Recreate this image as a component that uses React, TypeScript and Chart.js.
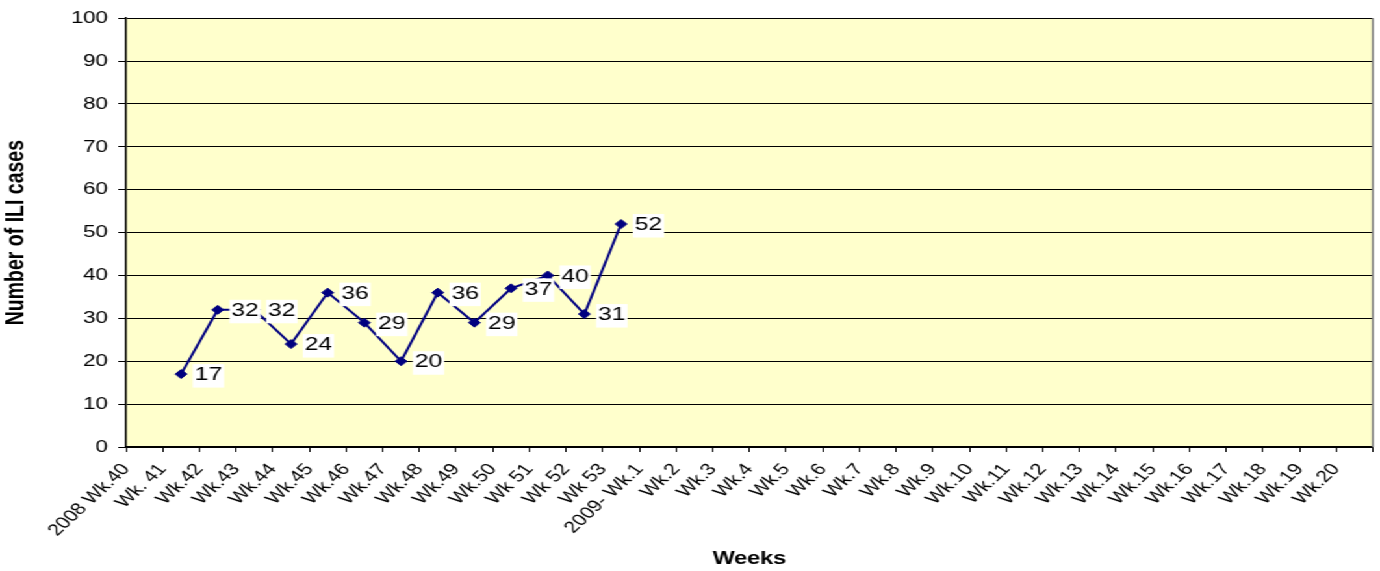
import React, { useEffect, useRef } from 'react';
import { Chart, registerables } from 'chart.js';

Chart.register(...registerables);

const weekLabels: string[] = [
  '2008 Wk.40', 'Wk. 41', 'Wk.42', 'Wk.43', 'Wk.44', 'Wk.45', 'Wk.46', 'Wk.47',
  'Wk.48', 'Wk.49', 'Wk.50', 'Wk 51', 'Wk 52', 'Wk 53', '2009- Wk.1', 'Wk.2',
  'Wk.3', 'Wk.4', 'Wk.5', 'Wk.6', 'Wk.7', 'Wk.8', 'Wk.9', 'Wk.10', 'Wk.11',
  'Wk.12', 'Wk.13', 'Wk.14', 'Wk.15', 'Wk.16', 'Wk.17', 'Wk.18', 'Wk.19', 'Wk.20',
];

const iliCases: (number | null)[] = [
  null, 17, 32, 32, 24, 36, 29, 20, 36, 29, 37, 40, 31, 52,
  null, null, null, null, null, null, null, null, null, null, null, null,
  null, null, null, null, null, null, null, null,
];

const yAxisTicks: number[] = [0, 10, 20, 30, 40, 50, 60, 70, 80, 90, 100];

const yTitle = 'Number of ILI cases';
const xTitle = 'Weeks';

// The reference image is horizontally stretched; draw narrower and stretch.
const STRETCH = 1380 / 1062;
const BASE_W = 1062;
const BASE_H = 571;
const FONT = '"Liberation Sans", Arial, Helvetica, sans-serif';

const plotBgPlugin = {
  id: 'plotBg',
  beforeDraw(chart: any) {
    const { ctx, chartArea: a } = chart;
    ctx.save();
    ctx.fillStyle = '#FFFFCC';
    ctx.fillRect(a.left, a.top, a.right - a.left, a.bottom - a.top);
    ctx.restore();
  },
  afterDraw(chart: any) {
    const { ctx, chartArea: a } = chart;
    ctx.save();
    ctx.strokeStyle = '#808080';
    ctx.lineWidth = 1.5;
    ctx.beginPath();
    ctx.moveTo(a.right, a.top);
    ctx.lineTo(a.right, a.bottom);
    ctx.stroke();
    ctx.restore();
  },
};

const pointLabelPlugin = {
  id: 'pointLabels',
  afterDatasetsDraw(chart: any) {
    const { ctx } = chart;
    const meta = chart.getDatasetMeta(0);
    const values = chart.data.datasets[0].data as (number | null)[];
    ctx.save();
    ctx.font = `19px ${FONT}`;
    ctx.textBaseline = 'middle';
    ctx.textAlign = 'left';
    meta.data.forEach((pt: any, i: number) => {
      const v = values[i];
      if (v === null || v === undefined) return;
      const txt = String(v);
      const w = ctx.measureText(txt).width;
      ctx.fillStyle = '#FFFFFF';
      ctx.fillRect(pt.x + 9, pt.y - 10, w + 3, 23.5);
      ctx.fillStyle = '#000000';
      ctx.fillText(txt, pt.x + 10.5, pt.y + 1);
    });
    ctx.restore();
  },
};

export default function App() {
  const canvasRef = useRef<HTMLCanvasElement | null>(null);

  useEffect(() => {
    if (!canvasRef.current) return;
    const chart = new Chart(canvasRef.current, {
      type: 'line',
      data: {
        labels: weekLabels,
        datasets: [
          {
            data: iliCases,
            borderColor: '#000080',
            backgroundColor: '#000080',
            borderWidth: 2,
            pointStyle: 'rectRot',
            pointRadius: 4.5,
            pointBorderWidth: 1,
            pointBackgroundColor: '#000080',
            pointBorderColor: '#000080',
            tension: 0,
            spanGaps: false,
          },
        ],
      },
      options: {
        responsive: true,
        maintainAspectRatio: false,
        animation: false,
        devicePixelRatio: 1,
        layout: { padding: { top: 14, right: 5, left: 0, bottom: 0 } },
        plugins: {
          legend: { display: false },
          tooltip: { enabled: false },
        },
        scales: {
          x: {
            type: 'category',
            offset: true,
            grid: {
              offset: true,
              drawOnChartArea: false,
              drawTicks: true,
              tickLength: 5,
              color: '#000000',
            },
            border: { display: true, color: '#000000', width: 1.5 },
            ticks: {
              autoSkip: false,
              maxRotation: 50,
              minRotation: 50,
              labelOffset: -14.1,
              padding: 8,
              color: '#000000',
              font: { family: FONT, size: 16.5 },
            },
            title: {
              display: true,
              text: xTitle,
              color: '#000000',
              font: { family: FONT, size: 18, weight: 'bold' },
              padding: { top: 0, bottom: 1 },
            },
            afterFit(scale: any) {
              scale.height = 124;
              scale.paddingLeft = 0;
              scale.paddingRight = 0;
            },
          },
          y: {
            min: 0,
            max: 100,
            afterBuildTicks(scale: any) {
              scale.ticks = yAxisTicks.map((v) => ({ value: v }));
            },
            grid: {
              color: '#000000',
              lineWidth: 1,
              drawTicks: true,
              tickLength: 6,
            },
            border: { display: true, color: '#000000', width: 1.5 },
            ticks: {
              color: '#000000',
              padding: 8,
              font: { family: FONT, size: 17 },
            },
            title: {
              display: true,
              text: yTitle,
              color: '#000000',
              font: { family: FONT, size: 19.5, weight: 'bold' },
              padding: { top: 1, bottom: 0 },
            },
            afterFit(scale: any) {
              scale.width = 97;
            },
          },
        },
      },
      plugins: [plotBgPlugin, pointLabelPlugin],
    } as any);
    return () => chart.destroy();
  }, []);

  return (
    <div
      style={{
        position: 'fixed',
        left: 0,
        top: 0,
        width: BASE_W,
        height: BASE_H,
        transform: `scaleX(${STRETCH})`,
        transformOrigin: '0 0',
        background: '#FFFFFF',
      }}
    >
      <canvas ref={canvasRef} style={{ display: 'block' }} />
    </div>
  );
}
